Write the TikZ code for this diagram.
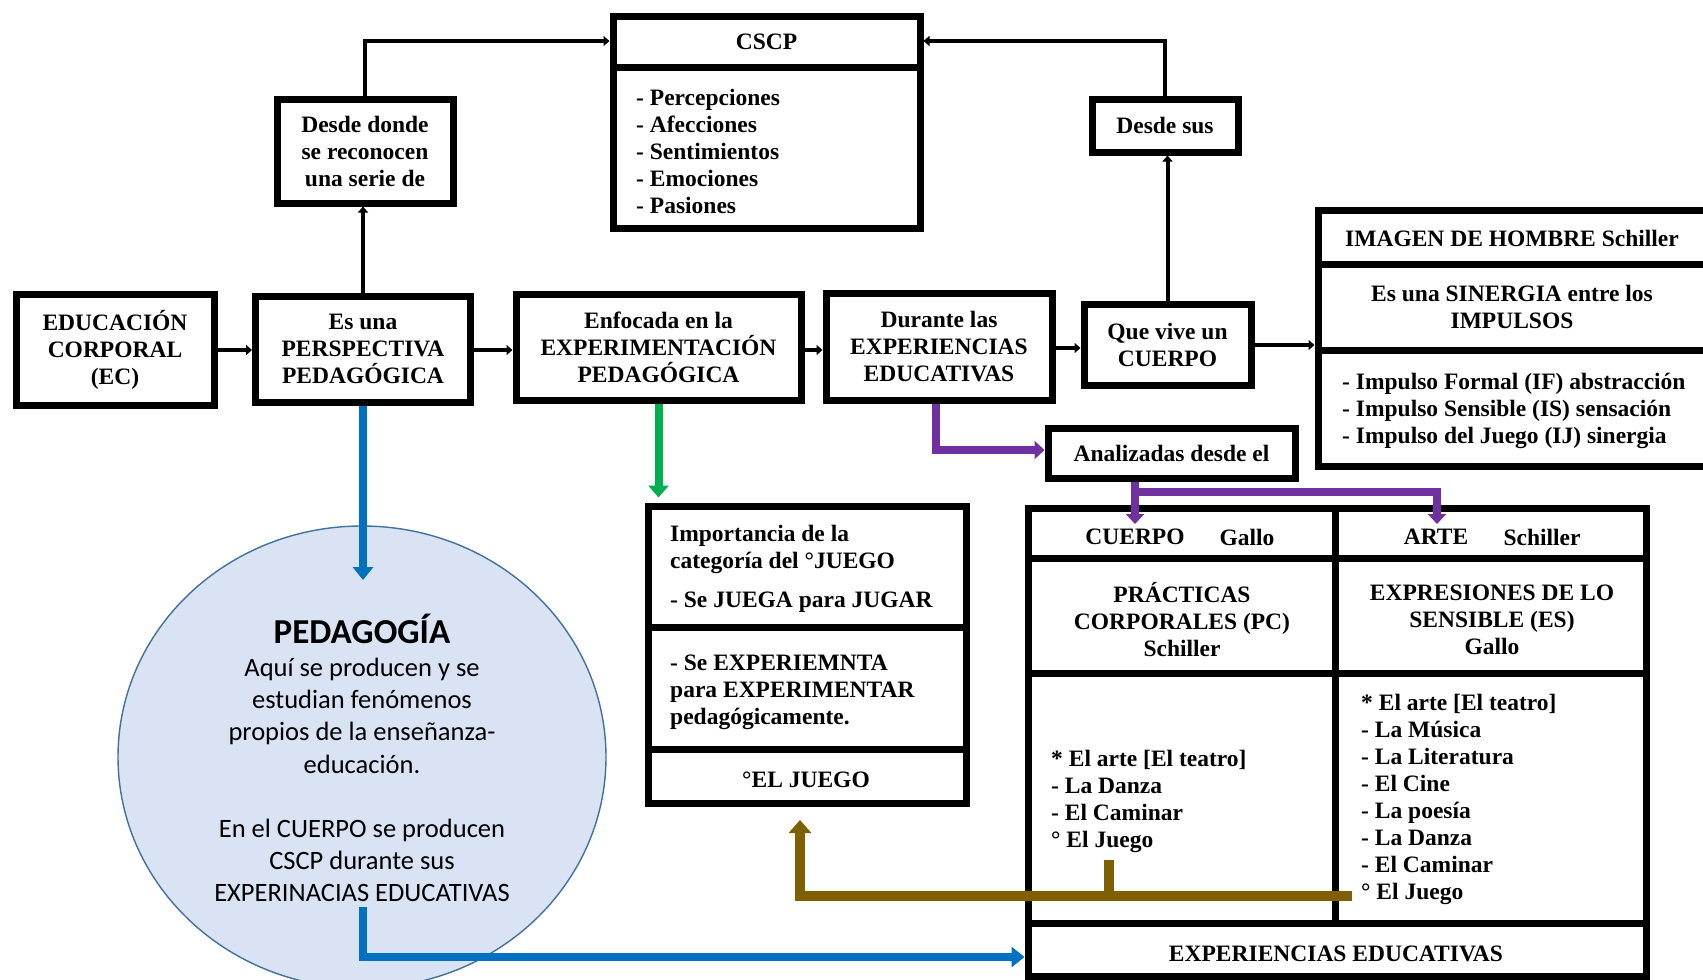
\documentclass[tikz,border=0pt]{standalone}
\usepackage{fontspec}
\setmainfont{Liberation Serif}
\newfontfamily\calfont{Carlito}
\usetikzlibrary{arrows.meta,calc,shapes.geometric}
\definecolor{pblue}{RGB}{0,112,192}
\definecolor{pgreen}{RGB}{0,176,80}
\definecolor{ppurple}{RGB}{112,48,160}
\definecolor{pbrown}{RGB}{127,96,0}
\definecolor{cfill}{RGB}{218,227,243}
\definecolor{cline}{RGB}{65,113,156}
\newcommand\tbf{\bfseries\fontsize{23.5}{27}\selectfont}
\begin{document}
\begin{tikzpicture}[x=1pt,y=-1pt,
  bx/.style={draw,line width=7pt,inner sep=0pt,align=center,font=\tbf},
  frame/.style={draw,line width=7pt,inner sep=0pt},
  divl/.style={line width=7pt},
  txt/.style={inner sep=0pt,align=center,font=\tbf},
  ltxt/.style={inner sep=0pt,align=left,font=\tbf,anchor=west},
  conn/.style={line width=4pt,-{Triangle[length=6pt,width=10pt]}},
  bluec/.style={pblue,line width=8pt,-{Triangle[length=13pt,width=20pt]}},
  greenc/.style={pgreen,line width=8pt,-{Triangle[length=12pt,width=20pt]}},
  purplec/.style={ppurple,line width=8.5pt,-{Triangle[length=10pt,width=18pt]}},
  brownc/.style={pbrown,line width=10pt,-{Triangle[length=13pt,width=22pt]}},
  brownl/.style={pbrown,line width=10pt},
  ctxt/.style={inner sep=0pt,align=center,font=\calfont\fontsize{26.5}{32.3}\selectfont}
]
\useasboundingbox (0,0) rectangle (1703,980);
\clip (0,0) rectangle (1703,980);

% circle
\node[ellipse,draw=cline,fill=cfill,line width=1.4pt,minimum width=488pt,minimum height=462pt] (ped) at (362,757) {};
\node[ctxt,font=\calfont\bfseries\fontsize{35}{40}\selectfont] (pedt) at (362,629) {PEDAGOGÍA};
\node[ctxt] (pedt1) at (362,715.5) {Aquí se producen y se\\estudian fenómenos\\propios de la enseñanza-\\educación.};
\node[ctxt] (pedt2) at (362,860.5) {En el CUERPO se producen\\CSCP durante sus\\EXPERINACIAS EDUCATIVAS};

% main row
\node[bx,minimum width=198pt,minimum height=111pt] (ec) at (115,350) {EDUCACIÓN\\CORPORAL\\(EC)};
\node[bx,minimum width=215pt,minimum height=106pt] (pp) at (363,349) {Es una\\PERSPECTIVA\\PEDAGÓGICA};
\node[bx,minimum width=176pt,minimum height=104pt] (dd) at (365,151) {Desde donde\\se reconocen\\una serie de};
\node[bx,minimum width=285pt,minimum height=106pt] (enf) at (658.5,347) {Enfocada en la\\EXPERIMENTACIÓN\\PEDAGÓGICA};
\node[bx,minimum width=226pt,minimum height=107pt] (dur) at (939,346.5) {Durante las\\EXPERIENCIAS\\EDUCATIVAS};
\node[bx,minimum width=167pt,minimum height=81pt] (qv) at (1167.5,344.5) {Que vive un\\CUERPO};
\node[bx,minimum width=146pt,minimum height=53pt] (ds) at (1165,125.5) {Desde sus};
\node[bx,minimum width=247pt,minimum height=50pt] (an) at (1171.5,453) {Analizadas desde el};

% CSCP
\node[frame,minimum width=307pt,minimum height=212pt] (cscp) at (766.5,122) {};
\draw[divl] (cscp.west |- 0,67) -- (cscp.east |- 0,67);
\node[txt] (cscph) at (766.5,42) {CSCP};
\node[ltxt] (cscpl) at (636,151.5) {- Percepciones\\- Afecciones\\- Sentimientos\\- Emociones\\- Pasiones};

% Imagen de hombre
\node[frame,minimum width=402pt,minimum height=256pt] (img) at (1519,338) {};
\draw[divl] (img.west |- 0,264) -- (img.east |- 0,264);
\draw[divl] (img.west |- 0,350) -- (img.east |- 0,350);
\node[txt] (imgh) at (1512,238) {IMAGEN DE HOMBRE Schiller};
\node[txt] (imgs) at (1512,307) {Es una SINERGIA entre los\\IMPULSOS};
\node[ltxt] (imgl) at (1342,411) {- Impulso Formal (IF) abstracción\\- Impulso Sensible (IS) sensación\\- Impulso del Juego (IJ) sinergia};

% Juego box
\node[frame,minimum width=318pt,minimum height=297pt] (jg) at (807,654.5) {};
\draw[divl] (jg.west |- 0,627) -- (jg.east |- 0,627);
\draw[divl] (jg.west |- 0,749) -- (jg.east |- 0,749);
\node[ltxt] (jg1) at (670,549) {Importancia de la\\categoría del °JUEGO};
\node[ltxt] (jg2) at (670,602) {- Se JUEGA para JUGAR};
\node[ltxt] (jg3) at (670,692) {- Se EXPERIEMNTA\\para EXPERIMENTAR\\pedagógicamente.};
\node[txt] (jg4) at (806,780) {°EL JUEGO};

% table
\node[frame,minimum width=618pt,minimum height=468pt] (tab) at (1337,742) {};
\draw[divl] (1335,508) -- (1335,923);
\draw[divl] (tab.west |- 0,558) -- (tab.east |- 0,558);
\draw[divl] (tab.west |- 0,673) -- (tab.east |- 0,673);
\draw[divl] (tab.west |- 0,923) -- (tab.east |- 0,923);
\node[txt] (th1) at (1135,537) {CUERPO};
\node[txt] (th2) at (1247,537) {Gallo};
\node[txt] (th3) at (1436,537) {ARTE};
\node[txt] (th4) at (1542,537) {Schiller};
\node[txt] (tpc) at (1182,620) {PRÁCTICAS\\CORPORALES (PC)\\Schiller};
\node[txt] (tes) at (1492,620) {EXPRESIONES DE LO\\SENSIBLE (ES)\\Gallo};
\node[ltxt] (tl1) at (1051,801) {* El arte [El teatro]\\- La Danza\\- El Caminar\\° El Juego};
\node[ltxt] (tl2) at (1361,799.5) {* El arte [El teatro]\\- La Música\\- La Literatura\\- El Cine\\- La poesía\\- La Danza\\- El Caminar\\° El Juego};
\node[txt] (tee) at (1336,954) {EXPERIENCIAS EDUCATIVAS};

% black connectors
\draw[conn] (ec.east |- 0,350) -- (pp.west |- 0,350);
\draw[conn] (pp.east |- 0,350) -- (enf.west |- 0,350);
\draw[conn] (enf.east |- 0,350) -- (dur.west |- 0,350);
\draw[conn] (dur.east |- 0,348) -- (qv.west |- 0,348);
\draw[conn] (qv.east |- 0,345) -- (img.west |- 0,345);
\draw[conn] (pp.north) -- (pp.north |- dd.south);
\draw[conn] (qv.north) -- (qv.north |- ds.south);
\draw[conn] (dd.north) -- (dd.north |- 0,41) -- (cscp.west |- 0,41);
\draw[conn] (ds.north) -- (ds.north |- 0,41) -- (cscp.east |- 0,41);

% coloured connectors
\draw[bluec] (pp.south) -- (pp.south |- 0,580);
\coordinate (b2) at (363,907);
\draw[bluec] (b2) -- (363,957) -- (tab.west |- 0,957);
\draw[greenc] (enf.south) -- ++(0,94);
\draw[purplec] (dur.south -| 936,0) -- (936,450) -- (an.west |- 0,450);
\draw[purplec] (an.south -| 1135,0) -- (1135,524);
\coordinate (pj) at (1135,492);
\draw[purplec] (pj) -- (1437,492) -- (1437,524);
\coordinate (bj) at (1352,896);
\draw[brownc] (bj) -- (800,896) -- (800,820);
\coordinate (bj2) at (1109,860);
\draw[brownl] (bj2) -- (1109,896);
\end{tikzpicture}
\end{document}
